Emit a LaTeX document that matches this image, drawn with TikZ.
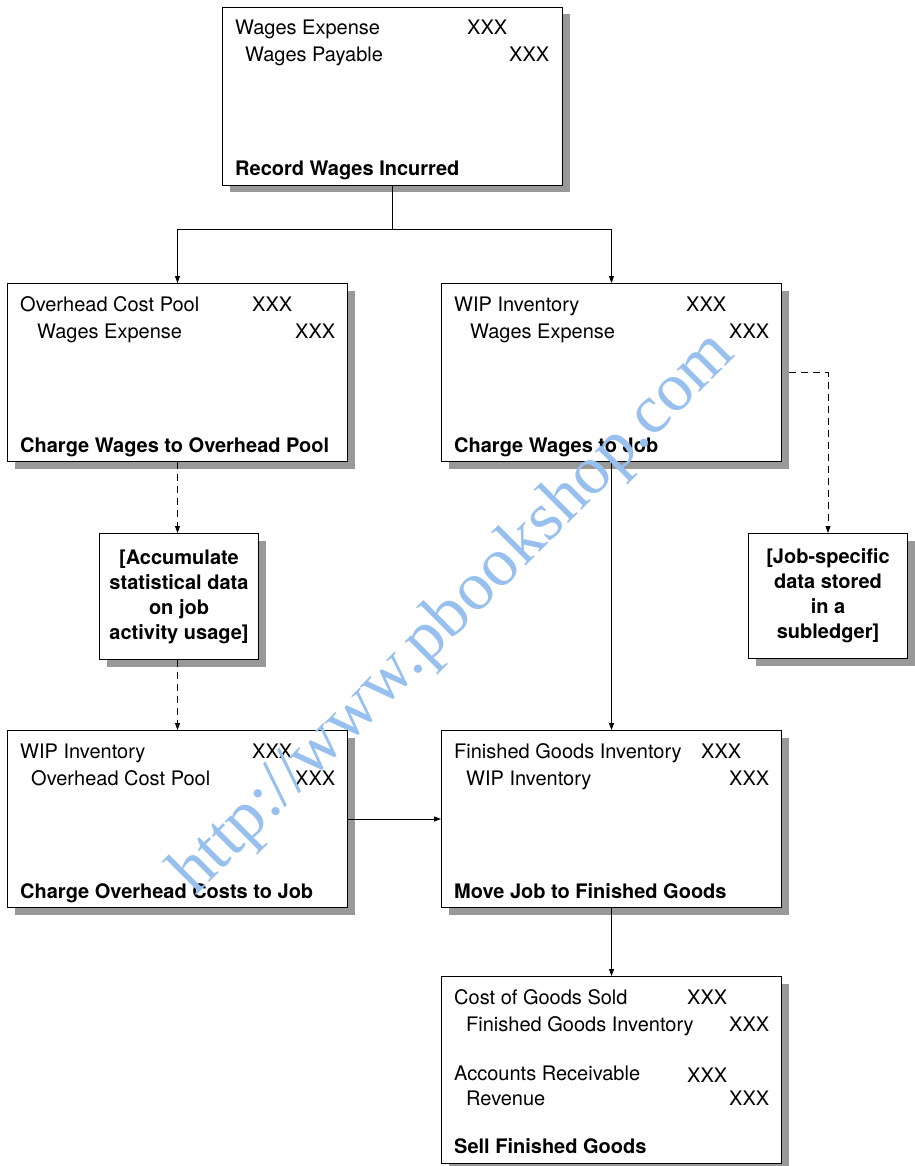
\documentclass[tikz,border=0pt]{standalone}
\usepackage{fontspec}
\setmainfont{TeX Gyre Heros}
\newfontfamily\wmfont{Liberation Serif}
\usetikzlibrary{shadows,arrows.meta,calc}
\definecolor{wmblue}{RGB}{152,192,238}
\tikzset{
  box/.style={draw=black, line width=1pt, fill=white, anchor=north west, inner sep=0pt,
    drop shadow={shadow xshift=7pt, shadow yshift=-7pt, fill=black!40, opacity=1}},
  txt/.style={anchor=base west, inner sep=0pt},
  btxt/.style={anchor=base west, inner sep=0pt, font=\fontsize{20}{24}\selectfont\bfseries},
  note/.style={align=center, inner sep=0pt, font=\fontsize{20}{25}\selectfont\bfseries},
  conn/.style={line width=0.8pt, draw=black},
  arr/.style={conn, -{Triangle[length=7pt,width=5pt]}},
  darr/.style={arr, dash pattern=on 7pt off 5pt}
}
\begin{document}
\begin{tikzpicture}[x=1pt, y=-1pt, font=\fontsize{20}{24}\selectfont]
\useasboundingbox (0,0) rectangle (914,1166);

% boxes
\node[box, minimum width=340pt, minimum height=178pt] (b1) at (222,7) {};
\node[box, minimum width=340pt, minimum height=178pt] (b2) at (7,283) {};
\node[box, minimum width=340pt, minimum height=178pt] (b3) at (441,283) {};
\node[box, minimum width=159pt, minimum height=126pt] (b4) at (99,533) {};
\node[box, minimum width=159pt, minimum height=125pt] (b5) at (748,533) {};
\node[box, minimum width=340pt, minimum height=177pt] (b6) at (7,730) {};
\node[box, minimum width=340pt, minimum height=177pt] (b7) at (441,730) {};
\node[box, minimum width=340pt, minimum height=187pt] (b8) at (441,976) {};

% box 1
\node[txt] (b1a) at (235,35) {Wages Expense};
\node[txt] (b1ax) at (467,35) {XXX};
\node[txt] (b1b) at (245,62) {Wages Payable};
\node[txt] (b1bx) at (509,62) {XXX};
\node[btxt] (b1t) at (235,176) {Record Wages Incurred};

% box 2
\node[txt] (b2a) at (20,311) {Overhead Cost Pool};
\node[txt] (b2ax) at (252,311) {XXX};
\node[txt] (b2b) at (37,338) {Wages Expense};
\node[txt] (b2bx) at (295,338) {XXX};
\node[btxt] (b2t) at (20,452) {Charge Wages to Overhead Pool};

% box 3
\node[txt] (b3a) at (454,311) {WIP Inventory};
\node[txt] (b3ax) at (686,311) {XXX};
\node[txt] (b3b) at (470,338) {Wages Expense};
\node[txt] (b3bx) at (729,338) {XXX};
\node[btxt] (b3t) at (454,452) {Charge Wages to Job};

% notes
\node[note] (b4t) at (b4.center) {[Accumulate\\statistical data\\on job\\activity usage]};
\node[note] (b5t) at (b5.center) {[Job-specific\\data stored\\in a\\subledger]};

% box 6
\node[txt] (b6a) at (20,758) {WIP Inventory};
\node[txt] (b6ax) at (252,758) {XXX};
\node[txt] (b6b) at (31,785) {Overhead Cost Pool};
\node[txt] (b6bx) at (295,785) {XXX};
\node[btxt] (b6t) at (20,898) {Charge Overhead Costs to Job};

% box 7
\node[txt] (b7a) at (454,758) {Finished Goods Inventory};
\node[txt] (b7ax) at (701,758) {XXX};
\node[txt] (b7b) at (466,785) {WIP Inventory};
\node[txt] (b7bx) at (729,785) {XXX};
\node[btxt] (b7t) at (454,898) {Move Job to Finished Goods};

% box 8
\node[txt] (b8a) at (454,1004) {Cost of Goods Sold};
\node[txt] (b8ax) at (687,1004) {XXX};
\node[txt] (b8b) at (466,1031) {Finished Goods Inventory};
\node[txt] (b8bx) at (729,1031) {XXX};
\node[txt] (b8c) at (454,1080) {Accounts Receivable};
\node[txt] (b8cx) at (687,1082) {XXX};
\node[txt] (b8d) at (466,1105) {Revenue};
\node[txt] (b8dx) at (729,1105) {XXX};
\node[btxt] (b8t) at (454,1153) {Sell Finished Goods};

% connectors
\coordinate (split) at (b1.south |- 0,229);
\draw[conn] (b1.south) -- (split);
\draw[arr] (split) -| (b2.north);
\draw[arr] (split) -| (b3.north);
\draw[darr] (b2.south) -- (b2.south |- b4.north);
\draw[darr] (b4.south -| b2.south) -- (b6.north);
\draw[arr] (b3.south) -- (b7.north);
\draw[darr] ([xshift=7pt]b3.east) -| (b5.north);
\draw[arr] (b6.east) -- (b7.west);
\draw[arr] (b7.south) -- (b8.north);

% watermark
\node[rotate=45, anchor=base, inner sep=0pt, text=wmblue,
  font=\fontsize{69}{69}\selectfont\wmfont] (wm) at (466,626) {http://www.pbookshop.com};
\end{tikzpicture}
\end{document}
